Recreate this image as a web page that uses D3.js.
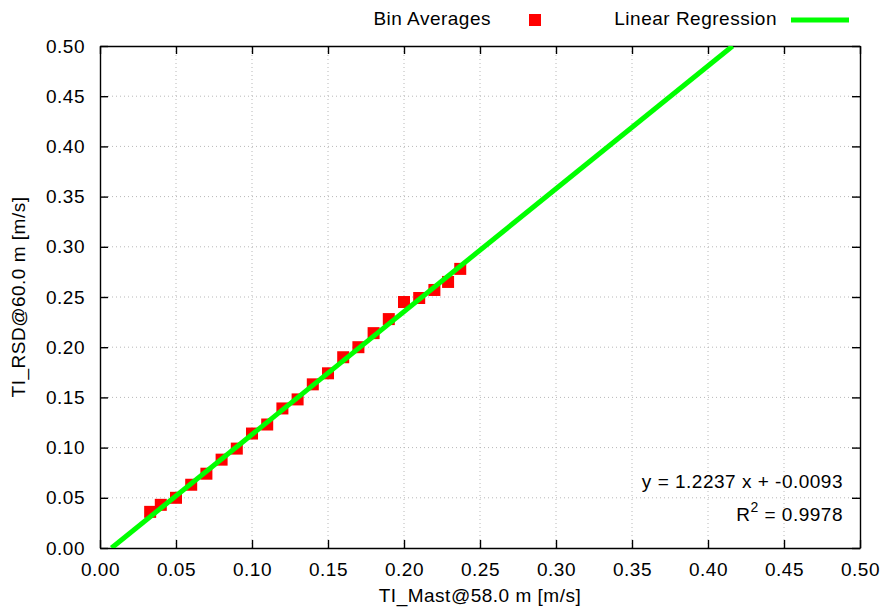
<!DOCTYPE html>
<meta charset="utf-8">
<script src="https://d3js.org/d3.v7.min.js"></script>
<style>
  body { margin: 0; background: #fff; }
  text { font-family: "Liberation Sans", Arial, sans-serif; font-size: 19px; letter-spacing: 0.5px; fill: #000; }
</style>
<div id="my_dataviz"></div>
<script>

// bin averages
var xMast = [0.033, 0.040, 0.050, 0.060, 0.070, 0.080, 0.090, 0.100, 0.110, 0.120, 0.130,
             0.140, 0.150, 0.160, 0.170, 0.180, 0.190, 0.200, 0.210, 0.220, 0.229, 0.237]
var yRsd  = [0.036, 0.043, 0.050, 0.063, 0.074, 0.088, 0.099, 0.114, 0.123, 0.139, 0.148,
             0.163, 0.174, 0.190, 0.200, 0.214, 0.228, 0.245, 0.249, 0.257, 0.265, 0.278]

// regression
var slope = 1.2237
var offset = -0.0093
var r2 = 0.9978

var ticks = [0, 0.05, 0.10, 0.15, 0.20, 0.25, 0.30, 0.35, 0.40, 0.45, 0.50]

var width = 881
    height = 609
    margin = {left: 100, right: 21, top: 46, bottom: 61}

var svg = d3.select("#my_dataviz")
  .append("svg")
    .attr("width", width)
    .attr("height", height)

var x = d3.scaleLinear().domain([0, 0.5]).range([margin.left, width - margin.right])
var y = d3.scaleLinear().domain([0, 0.5]).range([height - margin.bottom, margin.top])

// dotted grid
svg.append("g").selectAll("line").data(ticks.slice(1, -1)).enter().append("line")
  .attr("x1", function(d){ return x(d) }).attr("x2", function(d){ return x(d) })
  .attr("y1", y(0)).attr("y2", y(0.5))
  .attr("stroke", "#b8b8b8").attr("stroke-dasharray", "1,3")
svg.append("g").selectAll("line").data(ticks.slice(1, -1)).enter().append("line")
  .attr("y1", function(d){ return y(d) }).attr("y2", function(d){ return y(d) })
  .attr("x1", x(0)).attr("x2", x(0.5))
  .attr("stroke", "#b8b8b8").attr("stroke-dasharray", "1,3")

// axes, ticks inward on all sides
var fmt = d3.format(".2f")
svg.append("g").attr("transform", "translate(0," + y(0) + ")")
  .call(d3.axisBottom(x).tickValues(ticks).tickFormat(fmt).tickSizeInner(-8).tickSizeOuter(0).tickPadding(15))
svg.append("g").attr("transform", "translate(" + x(0) + ",0)")
  .call(d3.axisLeft(y).tickValues(ticks).tickFormat(fmt).tickSizeInner(-8).tickSizeOuter(0).tickPadding(15))
svg.append("g").attr("transform", "translate(0," + y(0.5) + ")")
  .call(d3.axisTop(x).tickValues(ticks).tickFormat("").tickSizeInner(-8).tickSizeOuter(0))
svg.append("g").attr("transform", "translate(" + x(0.5) + ",0)")
  .call(d3.axisRight(y).tickValues(ticks).tickFormat("").tickSizeInner(-8).tickSizeOuter(0))
svg.selectAll(".tick text").style("font-size", "19px").style("font-family", "Liberation Sans, Arial, sans-serif").attr("fill", "#000")
svg.selectAll(".domain, .tick line").attr("stroke", "#000").attr("stroke-width", 1.4)

// clip region
svg.append("clipPath").attr("id", "plotclip").append("rect")
  .attr("x", x(0)).attr("y", y(0.5)).attr("width", x(0.5) - x(0)).attr("height", y(0) - y(0.5))

// bin averages
var sq = 12
svg.append("g").selectAll("rect").data(xMast).enter().append("rect")
  .attr("x", function(d){ return x(d) - sq / 2 })
  .attr("y", function(d, i){ return y(yRsd[i]) - sq / 2 })
  .attr("width", sq).attr("height", sq)
  .attr("fill", "#ff0000")

// regression line from y=0 to y=0.5
var x0 = (0 - offset) / slope
var x1 = (0.5 - offset) / slope
svg.append("line")
  .attr("clip-path", "url(#plotclip)")
  .attr("x1", x(x0)).attr("y1", y(slope * x0 + offset))
  .attr("x2", x(x1)).attr("y2", y(slope * x1 + offset))
  .attr("stroke", "#00ff00").attr("stroke-width", 5)

// legend
svg.append("text").attr("x", 491).attr("y", 20).attr("text-anchor", "end").attr("dominant-baseline", "middle").text("Bin Averages")
svg.append("rect").attr("x", 535 - sq / 2).attr("y", 20 - sq / 2).attr("width", sq).attr("height", sq).attr("fill", "#ff0000")
svg.append("text").attr("x", 777).attr("y", 20).attr("text-anchor", "end").attr("dominant-baseline", "middle").text("Linear Regression")
svg.append("line").attr("x1", 791).attr("x2", 849).attr("y1", 20).attr("y2", 20).attr("stroke", "#00ff00").attr("stroke-width", 5)

// equation
svg.append("text").attr("x", 843).attr("y", 483).attr("text-anchor", "end").attr("dominant-baseline", "middle")
  .text("y = " + slope.toFixed(4) + " x + " + offset.toFixed(4))
var rt = svg.append("text").attr("x", 843).attr("y", 516).attr("text-anchor", "end").attr("dominant-baseline", "middle")
rt.append("tspan").text("R")
rt.append("tspan").attr("dy", -8).style("font-size", "14px").text("2")
rt.append("tspan").attr("dy", 8).text(" = " + r2.toFixed(4))

// axis titles
svg.append("text").attr("x", (x(0) + x(0.5)) / 2).attr("y", 597).attr("text-anchor", "middle").attr("dominant-baseline", "middle")
  .text("TI_Mast@58.0 m [m/s]")
svg.append("text").attr("transform", "translate(20," + (y(0) + y(0.5)) / 2 + ") rotate(-90)")
  .attr("text-anchor", "middle").attr("dominant-baseline", "middle")
  .text("TI_RSD@60.0 m [m/s]")

</script>
